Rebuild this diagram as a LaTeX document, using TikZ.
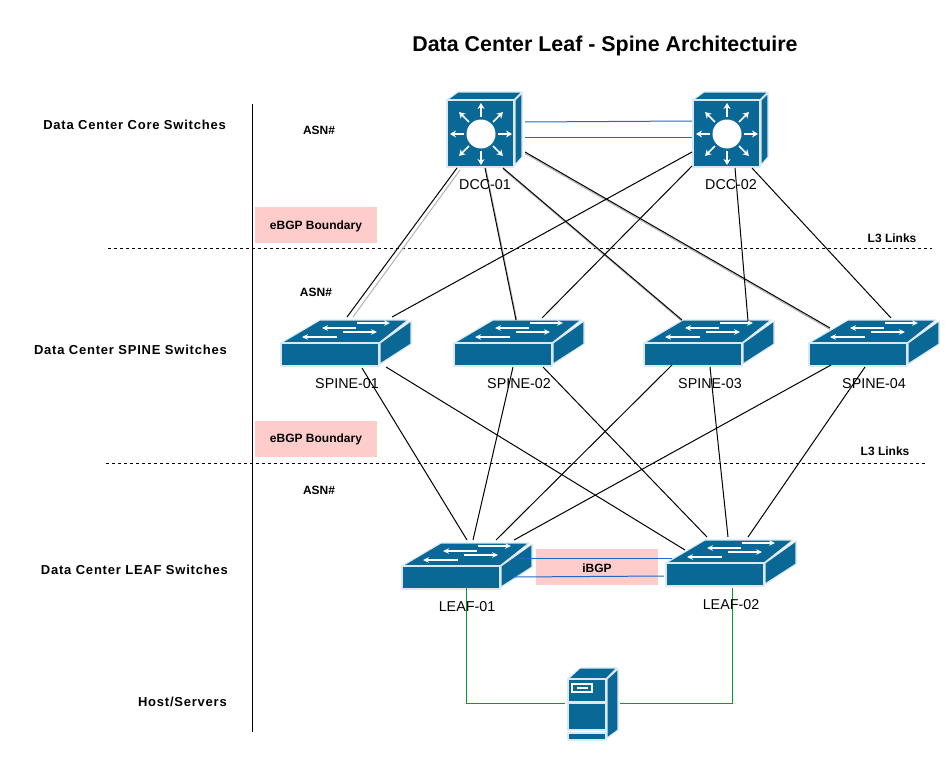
\documentclass[tikz,border=0pt]{standalone}
\usepackage{fontspec}
\setmainfont{Liberation Sans}
\usetikzlibrary{arrows.meta}
\definecolor{icon}{HTML}{0A6896}
\definecolor{bluelink}{HTML}{2468C4}
\definecolor{greenlink}{HTML}{00A020}
\definecolor{boundary}{HTML}{FFCCCC}
\tikzset{
  face/.style={fill=icon,draw=white!85!icon,line width=1.1pt,line join=round},
  wht/.style={white,line width=1.2pt,-{Stealth[length=6pt,width=5.5pt]}},
  whtb/.style={white,line width=1.6pt,-{Stealth[length=6pt,width=7pt]}},
  hot/.style={inner sep=0pt,outer sep=0pt,minimum width=#1},
  link/.style={black,line width=1pt},
  lnkshadow/.style={black!30,line width=1pt},
  bluel/.style={bluelink,line width=1pt},
  greenl/.style={greenlink,line width=1pt},
  rowlabel/.style={font=\bfseries\fontsize{13}{15}\selectfont\addfontfeature{LetterSpace=6},anchor=east,inner sep=0pt},
  smalltext/.style={font=\bfseries\fontsize{12}{14}\selectfont,inner sep=0pt},
  devname/.style={font=\fontsize{14.3}{17}\selectfont,inner sep=0pt},
  pinkbox/.style={fill=boundary,inner sep=0pt,minimum width=122pt,minimum height=36pt},
  pinktext/.style={font=\bfseries\fontsize{12}{14}\selectfont,inner sep=0pt},
  sepline/.style={black,dashed,line width=1pt},
}
\newcommand{\switchicon}[3]{%
  \node[hot=130pt,minimum height=46pt] (#1) at (#2+65,#3+23) {};
  \begin{scope}[shift={(#2,#3)}]
    \draw[face] (0,23) -- (39,0) -- (127,0) -- (98,23) -- cycle;
    \draw[face] (0,23) rectangle (98,46);
    \draw[face] (99,23) -- (130,1) -- (130,24) -- (99,44) -- cycle;
    \draw[wht] (75,8) -- (41,8);
    \draw[wht] (76,3) -- (109,3);
    \draw[wht] (62,12) -- (96,12);
    \draw[wht] (56,17) -- (21,17);
  \end{scope}}
\newcommand{\routericon}[3]{%
  \node[hot=75pt,minimum height=75pt] (#1) at (#2+37.5,#3+37.5) {};
  \begin{scope}[shift={(#2,#3)}]
    \draw[face] (0,8) -- (11,0) -- (75,0) -- (67,8) -- cycle;
    \draw[face] (0,8) rectangle (67,75);
    \draw[face] (68,8) -- (75,1) -- (75,65) -- (68,73) -- cycle;
    \fill[white] (34,42) circle (14.5);
    \foreach \a in {0,45,...,315}
      \draw[whtb] ({34+17*cos(\a)},{42+17*sin(\a)}) -- ({34+31*cos(\a)},{42+31*sin(\a)});
  \end{scope}}
\newcommand{\lnk}[7][link]{\draw[#1] ([shift={(#3,#4)}]#2.north west) -- ([shift={(#6,#7)}]#5.north west);}
\begin{document}
\begin{tikzpicture}[x=1pt,y=-1pt]
\useasboundingbox (0,0) rectangle (952,760);
% boundary boxes
\node[pinkbox] (eb1) at (316,225) {};
\node[pinkbox] (eb2) at (316,439) {};
\node[pinkbox] (ib) at (597,567) {};
% separators
\coordinate (va) at (252.5,104); \coordinate (vb) at (252.5,732);
\draw[black,line width=0.9pt] (va) -- (vb);
\coordinate (s1a) at (108,248); \coordinate (s1b) at (932,248);
\coordinate (s2a) at (106,463); \coordinate (s2b) at (925,463);
\draw[sepline] (s1a) -- (s1b);
\draw[sepline] (s2a) -- (s2b);
% icons
\routericon{D1}{447}{92}
\routericon{D2}{693}{92}
\switchicon{S1}{281}{320}
\switchicon{S2}{454}{320}
\switchicon{S3}{644}{320}
\switchicon{S4}{809}{320}
\switchicon{L1}{402}{543}
\switchicon{L2}{666}{540}
% server
\node[hot=50pt,minimum height=72pt] (SV) at (593,704) {};
\begin{scope}[shift={(568,668)}]
  \draw[face] (0,11) -- (12,0) -- (49,0) -- (38,11) -- cycle;
  \draw[face] (39,11) -- (50,1) -- (50,62) -- (39,70) -- cycle;
  \draw[face] (0,11) rectangle (38,34);
  \draw[face] (0,35) rectangle (38,62);
  \draw[face] (0,65) rectangle (38,72);
  \fill[white] (3,15) rectangle (25,25);
  \fill[icon] (5,17) rectangle (23,23);
  \fill[white] (9,19) rectangle (20,21);
\end{scope}
% core to spine
\lnk[lnkshadow]{D1}{13}{78}{S1}{72}{-3}
\lnk[lnkshadow]{D1}{38.8}{76}{S2}{62.8}{0}
\lnk[lnkshadow]{D1}{56}{77.2}{S3}{38}{1.2}
\lnk[lnkshadow]{D1}{78}{61.5}{S4}{21}{9.5}
\lnk{D1}{10}{76}{S1}{66}{-3}
\lnk{D1}{38}{76}{S2}{62}{0}
\lnk{D1}{56}{76}{S3}{38}{0}
\lnk{D1}{78}{60}{S4}{21}{8}
\lnk{D2}{-1}{60}{S1}{111}{-3}
\lnk{D2}{-1}{74}{S2}{88}{-2}
\lnk{D2}{42}{76}{S3}{104}{1}
\lnk{D2}{59}{76}{S4}{82}{-2}
% spine to leaf
\lnk{S1}{81}{48}{L1}{65}{-3}
\lnk{S1}{105}{47}{L2}{19}{10}
\lnk{S2}{59}{47}{L1}{71}{-3}
\lnk{S2}{89}{47}{L2}{41}{-3}
\lnk{S3}{28}{45}{L1}{94}{-3}
\lnk{S3}{66}{47}{L2}{62}{-3}
\lnk{S4}{22}{45}{L1}{112}{-3}
\lnk{S4}{56}{47}{L2}{82}{-3}
% peer links
\lnk[bluel]{D1}{78}{30}{D2}{-1}{29}
\lnk[bluel]{D1}{78}{45.4}{D2}{-1}{45.4}
\lnk[bluel]{L1}{111}{15}{L2}{6}{18}
\lnk[bluel]{L1}{111}{34}{L2}{-2}{36}
% host links
\draw[greenl] ([shift={(64.5,45)}]L1.north west) |- ([shift={(-3,35)}]SV.north west);
\draw[greenl] ([shift={(66.5,48)}]L2.north west) |- ([shift={(52,35)}]SV.north west);
% texts
\node[pinktext] (eb1t) at (316,226) {eBGP Boundary};
\node[pinktext] (eb2t) at (316,439) {eBGP Boundary};
\node[pinktext] (ibt) at (597,568) {iBGP};
\node[font=\bfseries\fontsize{21.4}{25}\selectfont,inner sep=0pt] (title) at (605,46) {Data Center Leaf - Spine Architectuire};
\node[rowlabel] (r1) at (226,124.5) {Data Center Core Switches};
\node[rowlabel] (r2) at (227,349.5) {Data Center SPINE Switches};
\node[rowlabel] (r3) at (228,569.5) {Data Center LEAF Switches};
\node[rowlabel] (r4) at (227,702) {Host/Servers};
\node[smalltext] (a1) at (319,130) {ASN\#};
\node[smalltext] (a2) at (316,292) {ASN\#};
\node[smalltext] (a3) at (319,490) {ASN\#};
\node[smalltext] (l3a) at (892,238) {L3 Links};
\node[smalltext] (l3b) at (885,451) {L3 Links};
\node[devname] (n1) at (485,185) {DCC-01};
\node[devname] (n2) at (731,185) {DCC-02};
\node[devname] (n3) at (347,384) {SPINE-01};
\node[devname] (n4) at (519,384) {SPINE-02};
\node[devname] (n5) at (710,384) {SPINE-03};
\node[devname] (n6) at (874,384) {SPINE-04};
\node[devname] (n7) at (467,607) {LEAF-01};
\node[devname] (n8) at (731,605) {LEAF-02};
\end{tikzpicture}
\end{document}
